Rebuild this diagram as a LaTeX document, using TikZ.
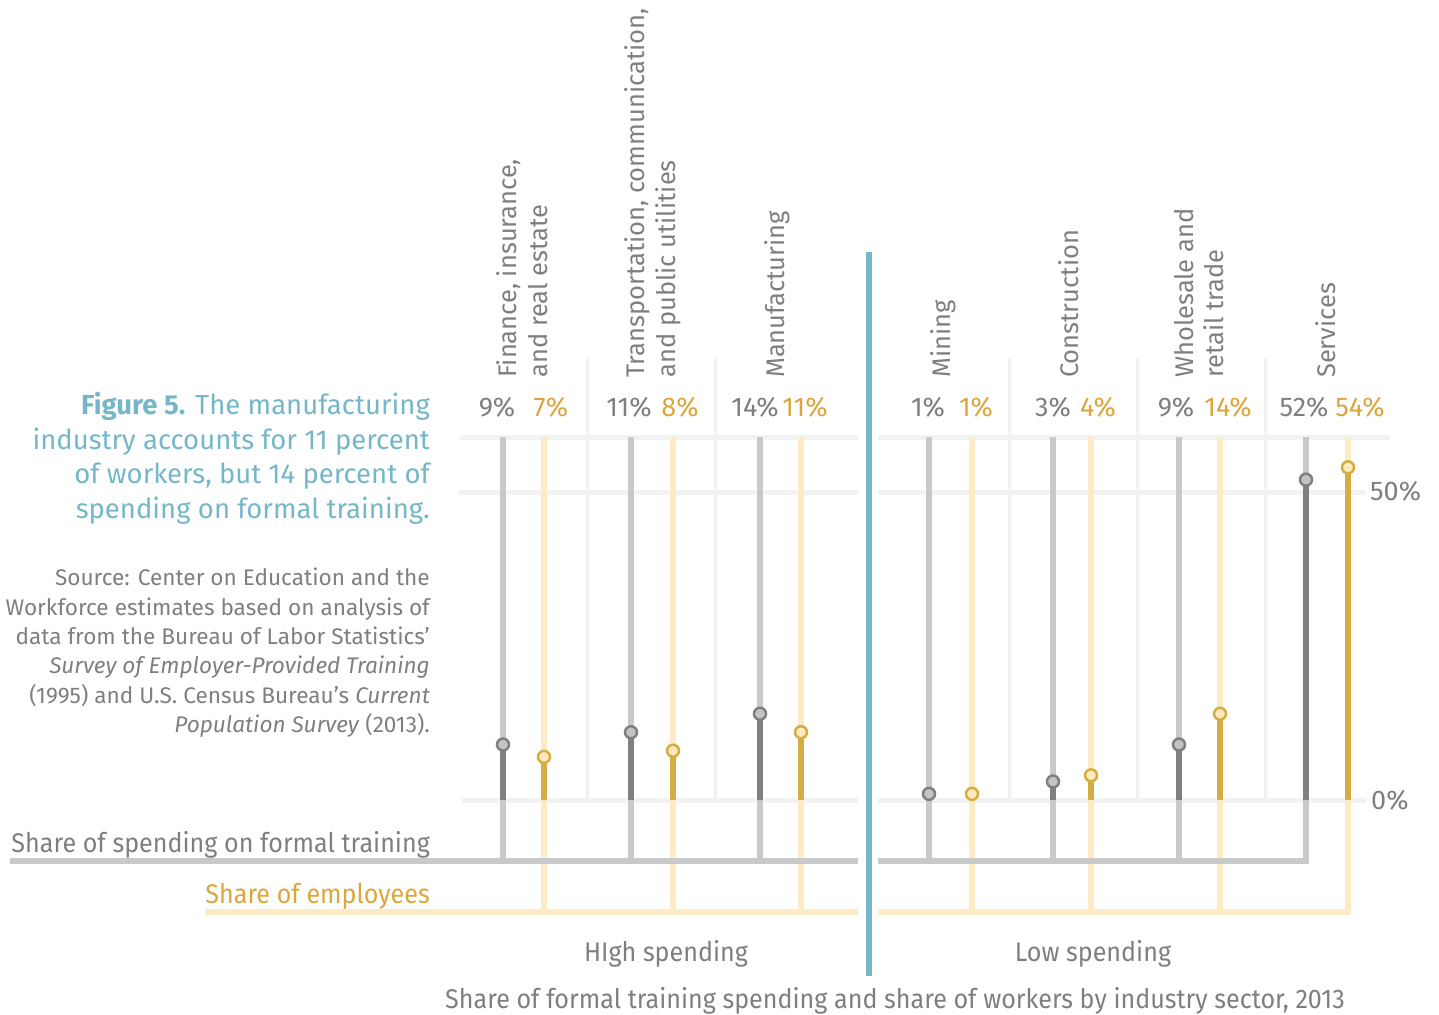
\documentclass[tikz,border=0pt]{standalone}
\usepackage{fontspec}
\setmainfont{Fira Sans}
\newfontfamily\condfont[FakeStretch=0.93]{Fira Sans}
\usetikzlibrary{calc}
\definecolor{gridgray}{HTML}{F2F2F2}
\definecolor{spendlight}{HTML}{C9C9CB}
\definecolor{spenddark}{HTML}{808083}
\definecolor{spendfill}{HTML}{C4C4C6}
\definecolor{stafflight}{HTML}{FDEBC5}
\definecolor{staffdark}{HTML}{D4AE42}
\definecolor{stafffill}{HTML}{FDE9BD}
\definecolor{divblue}{HTML}{75B7C8}
\definecolor{textgray}{HTML}{7F7F82}
\definecolor{textgold}{HTML}{DCA63E}
% one lollipop: x position and percent value (0% at y=800, 50% at y=492)
\def\spendstem(#1:#2){\draw[spend light] (#1, 437) -- (#1, 861);
  \draw[spend dark] (#1, 800) -- (#1, {800-6.16*#2});
  \draw[spend dot] (#1, {800-6.16*#2}) circle (6pt);}
\def\staffstem(#1:#2){\draw[staff light] (#1, 437) -- (#1, 912);
  \draw[staff dark] (#1, 800) -- (#1, {800-6.16*#2});
  \draw[staff dot] (#1, {800-6.16*#2}) circle (6pt);}

\begin{document}
\begin{tikzpicture}[x=1pt, y=-1pt,
  grid line/.style={line width=5pt, color=gridgray},
  grid sep/.style={line width=3pt, color=gridgray},
  spend light/.style={line width=6pt, color=spendlight},
  spend dark/.style={line width=6pt, color=spenddark},
  spend dot/.style={line width=2.5pt, draw=spenddark, fill=spendfill},
  staff light/.style={line width=6pt, color=stafflight},
  staff dark/.style={line width=6pt, color=staffdark},
  staff dot/.style={line width=2.5pt, draw=staffdark, fill=stafffill},
  pct/.style={anchor=base, inner sep=0pt, font=\fontsize{27}{30}\selectfont},
  sector/.style={rotate=90, anchor=west, align=left, inner sep=0pt, text=textgray,
    font=\fontsize{25.5}{30.5}\selectfont},
  note/.style={inner sep=0pt, text=textgray, font=\condfont\fontsize{27}{30}\selectfont}]
			%%%%% START %%%%%
			
			\useasboundingbox (0, 0) rectangle (1439, 1014);
			
			% grid
			\draw[grid line] (460, 437) -- (858, 437);
			\draw[grid line] (878, 437) -- (1390, 437);
			\draw[grid line] (458, 492) -- (858, 492);
			\draw[grid line] (878, 492) -- (1365, 492);
			\draw[grid line] (462, 800) -- (858, 800);
			\draw[grid line] (878, 800) -- (1366, 800);
			\foreach \sx in {587, 715, 1009, 1137, 1265}
				\draw[grid sep] (\sx, 358) -- (\sx, 800);
			
			% stems
			\spendstem(503:9)
			\staffstem(544:7)
			\spendstem(631:11)
			\staffstem(673:8)
			\spendstem(760:14)
			\staffstem(801:11)
			\spendstem(929:1)
			\staffstem(972:1)
			\spendstem(1053:3)
			\staffstem(1091:4)
			\spendstem(1179:9)
			\staffstem(1220:14)
			\spendstem(1306:52)
			\staffstem(1348:54)
			
			% bars
			\draw[staff light] (205, 912) -- (858, 912);
			\draw[staff light] (878, 912) -- (1351, 912);
			\draw[spend light] (10, 861) -- (858, 861);
			\draw[spend light] (878, 861) -- (1309, 861);
			
			\draw[line width=6pt, color=divblue] (869, 252) -- (869, 976);
			
			% percent labels
			\node[pct, text=textgray] (f9) at (497, 416) {9\%};
			\node[pct, text=textgold] (f7) at (551, 416) {7\%};
			\node[pct, text=textgray] (t11) at (629, 416) {11\%};
			\node[pct, text=textgold] (t8) at (680, 416) {8\%};
			\node[pct, text=textgray] (m14) at (755, 416) {14\%};
			\node[pct, text=textgold] (m11) at (805, 416) {11\%};
			\node[pct, text=textgray] (n1) at (928, 416) {1\%};
			\node[pct, text=textgold] (n1b) at (976, 416) {1\%};
			\node[pct, text=textgray] (c3) at (1053, 416) {3\%};
			\node[pct, text=textgold] (c4) at (1098, 416) {4\%};
			\node[pct, text=textgray] (w9) at (1176, 416) {9\%};
			\node[pct, text=textgold] (w14) at (1228, 416) {14\%};
			\node[pct, text=textgray] (s52) at (1304, 416) {52\%};
			\node[pct, text=textgold] (s54) at (1360, 416) {54\%};
			\node[pct, text=textgray, anchor=base west] (p50) at (1370, 500) {50\%};
			\node[pct, text=textgray, anchor=base west] (p0) at (1371, 809) {0\%};
			
			% sectors
			\node[sector] (fire) at (522, 378) {Finance, insurance,\\ and real estate};
			\node[sector] (tcpu) at (653, 378) {Transportation, communication,\\ and public utilities};
			\node[sector] (manu) at (777, 378) {Manufacturing};
			\node[sector] (mine) at (943, 378) {Mining};
			\node[sector] (cons) at (1069, 378) {Construction};
			\node[sector] (trade) at (1199, 378) {Wholesale and\\ retail trade};
			\node[sector] (serv) at (1326, 378) {Services};
			
			% title and source
			\node[anchor=north east, align=right, inner sep=0pt, text=divblue,
				font=\fontsize{27.5}{34.5}\selectfont] (title) at (430, 392)
				{\textbf{Figure 5.} The manufacturing\\ industry accounts for 11 percent\\
				of workers, but 14 percent of\\ spending on formal training.};
			\node[anchor=north east, align=right, inner sep=0pt, text=textgray,
				font=\fontsize{22.6}{29.3}\selectfont] (source) at (430, 568)
				{Source: Center on Education and the\\ Workforce estimates based on analysis of\\
				data from the Bureau of Labor Statistics’\\ \textit{Survey of Employer-Provided Training}\\
				(1995) and U.S. Census Bureau’s \textit{Current}\\ \textit{Population Survey} (2013).};
			
			% legend and axis notes
			\node[note, anchor=base east] (spendlab) at (430, 852) {Share of spending on formal training};
			\node[note, anchor=base east, text=textgold] (stafflab) at (430, 903) {Share of employees};
			\node[note, anchor=base] (high) at (666, 961) {HIgh spending};
			\node[note, anchor=base] (low) at (1093, 961) {Low spending};
			\node[note, anchor=base] (caption) at (895, 1008) {Share of formal training spending and share of workers by industry sector, 2013};
			
			%%%%% END %%%%%
\end{tikzpicture}
\end{document}
